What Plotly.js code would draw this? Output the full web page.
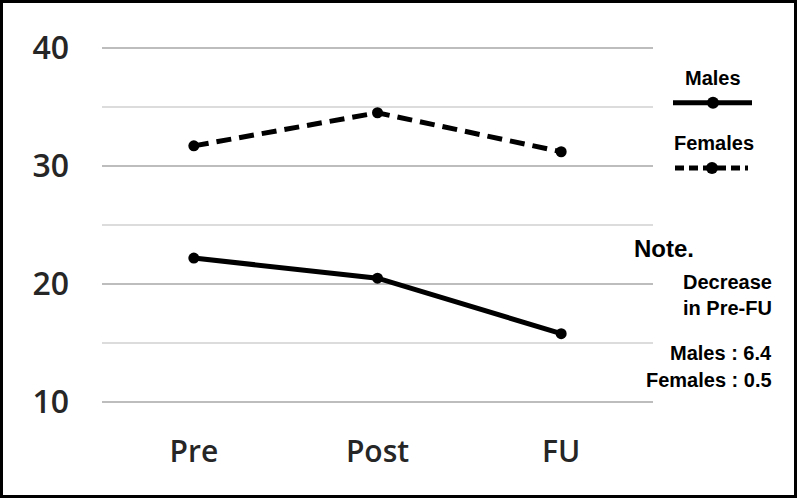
<!DOCTYPE html>
<html>
<head>
<meta charset="utf-8">
<script src="https://cdn.plot.ly/plotly-3.0.1.min.js"></script>
<style>
  html, body { margin: 0; padding: 0; background: #fff; }
  #chart { width: 797px; height: 498px; box-sizing: border-box; border: 3px solid #000; }
</style>
</head>
<body>
<div id="chart"></div>
<script>
// Chart data
const timepoints = ['Pre', 'Post', 'FU'];
const malesScores = [22.2, 20.5, 15.8];
const femalesScores = [31.7, 34.5, 31.2];
const yTicks = [10, 20, 30, 40];
const noteLines = ['Decrease', 'in Pre-FU'];
const noteValues = ['Males : 6.4', 'Females : 0.5'];

// Plot area in page pixels (value 40 at top, 10 at bottom)
const BORDER = 3;
const W = 797 - 2 * BORDER, H = 498 - 2 * BORDER;
const yMin = 10, yMax = 40, yPad = 0.15; // pad so the edge gridlines are not clipped
const ppu = (402 - 48) / (yMax - yMin);
const plotLeft = 102, plotRight = 653;
const plotTop = 48 - yPad * ppu, plotBottom = 402 + yPad * ppu;

function px(X) { return (X - plotLeft) / (plotRight - plotLeft); }
function py(Y) { return 1 - (Y - plotTop) / (plotBottom - plotTop); }

const lineFont = 'Liberation Sans, Arial, sans-serif';
const tickFamily = 'Open Sans, Lato, sans-serif';

const traces = [
  {
    x: timepoints,
    y: malesScores,
    mode: 'lines+markers',
    name: 'Males',
    line: { color: '#000', width: 5 },
    marker: { color: '#000', size: 11 }
  },
  {
    x: timepoints,
    y: femalesScores,
    mode: 'lines+markers',
    name: 'Females',
    line: { color: '#000', width: 5, dash: '15px,8px' },
    marker: { color: '#000', size: 11 }
  }
];

// Hand-built legend: label above a line sample
const annotations = [
  { text: 'Males', x: px(713), y: py(78), font: { size: 20 } },
  { text: 'Females', x: px(714), y: py(143), font: { size: 20 } },
  { text: 'Note.', x: px(664), y: py(248), font: { size: 24 } }
].map(a => Object.assign({
  xref: 'paper', yref: 'paper', showarrow: false,
  xanchor: 'center', yanchor: 'middle'
}, a, { font: Object.assign({ family: lineFont, color: '#000', weight: 'bold' }, a.font) }));

const noteY = [282, 308, 353, 380];
noteLines.concat(noteValues).forEach((t, i) => {
  annotations.push({
    text: t, xref: 'paper', yref: 'paper', showarrow: false,
    x: px(774), y: py(noteY[i]), xanchor: 'right', yanchor: 'middle',
    font: { family: lineFont, size: 20, color: '#000', weight: 'bold' }
  });
});

const shapes = [
  { type: 'line', xref: 'paper', yref: 'paper', x0: px(673), x1: px(752), y0: py(103), y1: py(103),
    line: { color: '#000', width: 5 } },
  { type: 'line', xref: 'paper', yref: 'paper', x0: px(675), x1: px(748), y0: py(168), y1: py(168),
    line: { color: '#000', width: 5, dash: '9px,5px' } },
  { type: 'circle', xref: 'paper', yref: 'paper', xsizemode: 'pixel', ysizemode: 'pixel',
    xanchor: px(713), yanchor: py(103), x0: -6, x1: 6, y0: -6, y1: 6,
    fillcolor: '#000', line: { width: 0 } },
  { type: 'circle', xref: 'paper', yref: 'paper', xsizemode: 'pixel', ysizemode: 'pixel',
    xanchor: px(712), yanchor: py(168), x0: -6, x1: 6, y0: -6, y1: 6,
    fillcolor: '#000', line: { width: 0 } }
];

const layout = {
  width: W,
  height: H,
  paper_bgcolor: '#fff',
  plot_bgcolor: '#fff',
  showlegend: false,
  margin: {
    l: plotLeft - BORDER,
    r: W - (plotRight - BORDER),
    t: plotTop - BORDER,
    b: H - (plotBottom - BORDER),
    pad: 0
  },
  xaxis: {
    type: 'category',
    range: [-0.5, 2.5],
    showgrid: false,
    zeroline: false,
    showline: false,
    ticks: '',
    ticklabelstandoff: 27,
    tickfont: { family: tickFamily, size: 30, color: '#262626', weight: 600 }
  },
  yaxis: {
    range: [yMin - yPad, yMax + yPad],
    tickvals: yTicks,
    showgrid: true,
    gridcolor: '#bdbdbd',
    gridwidth: 1.5,
    minor: { dtick: 5, showgrid: true, gridcolor: '#dcdcdc', gridwidth: 1.5 },
    zeroline: false,
    showline: false,
    ticks: '',
    ticklabelstandoff: 32,
    tickfont: { family: tickFamily, size: 32, color: '#262626', weight: 600 }
  },
  annotations: annotations,
  shapes: shapes
};

Plotly.newPlot('chart', traces, layout, { displayModeBar: false, staticPlot: true });
</script>
</body>
</html>
